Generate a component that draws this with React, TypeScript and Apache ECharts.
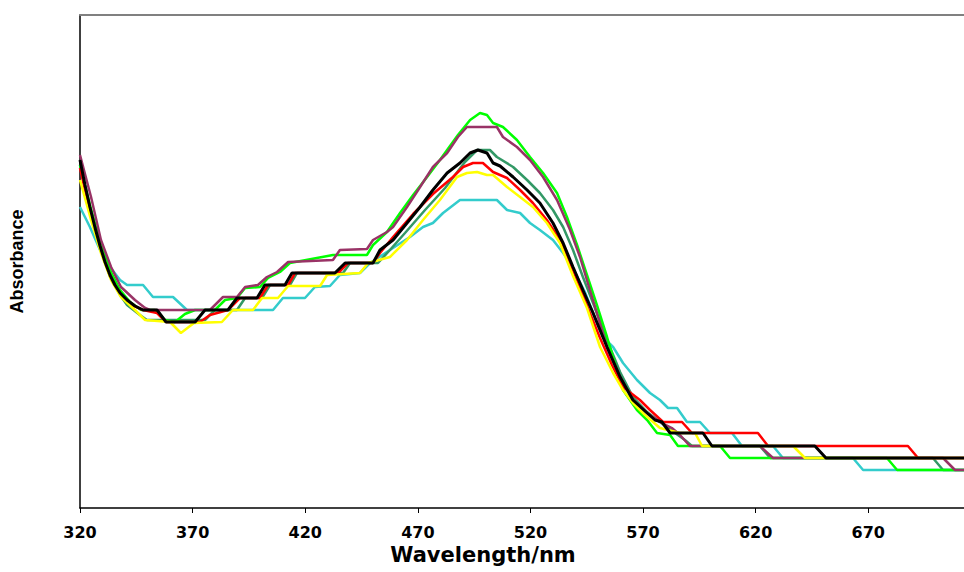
import React, { useEffect, useRef } from "react";
import * as echarts from "echarts";

// Wavelength (nm) / absorbance pairs
const seriesNames = ["S7", "S6", "S5", "S4", "S3", "S2", "S1"];
const seriesColors = ["#33CCCC", "#339966", "#00FF00", "#993366", "#FF0000", "#FFFF00", "#000000"];

const cyanData = [[320.0,.602],[324.4,.562],[328.9,.516],[333.3,.482],[337.8,.456],[340.9,.446],[348.0,.446],[352.4,.422],[361.3,.422],[367.5,.396],[405.7,.396],[410.1,.420],[419.9,.420],[424.3,.442],[431.0,.444],[435.4,.466],[444.3,.470],[448.8,.490],[457.6,.516],[466.5,.542],[472.3,.562],[476.7,.570],[481.2,.590],[488.7,.616],[505.1,.616],[509.6,.596],[515.4,.590],[519.8,.570],[524.2,.556],[530.0,.536],[534.5,.510],[537.6,.490],[544.2,.432],[548.7,.380],[552.2,.342],[556.7,.322],[561.1,.290],[567.3,.256],[573.1,.230],[577.5,.216],[581.1,.200],[585.1,.200],[589.5,.172],[595.3,.172],[599.7,.150],[609.5,.150],[613.9,.124],[627.7,.124],[632.1,.100],[663.2,.100],[667.7,.076],[712.5,.076]];

const tealData = [[320.0,.686],[324.4,.600],[328.9,.524],[333.3,.464],[337.8,.426],[340.9,.406],[346.6,.386],[349.7,.376],[375.5,.376],[379.9,.396],[389.7,.396],[393.3,.420],[400.8,.420],[404.4,.446],[413.2,.446],[416.3,.470],[436.8,.470],[439.9,.490],[452.3,.490],[457.6,.516],[464.3,.550],[473.2,.596],[482.1,.640],[490.9,.692],[496.3,.716],[502.0,.716],[505.1,.702],[512.3,.682],[518.5,.656],[524.2,.630],[530.0,.596],[534.5,.562],[538.9,.516],[543.3,.462],[547.8,.410],[554.0,.336],[559.8,.272],[565.5,.222],[571.8,.192],[577.5,.172],[584.2,.150],[588.6,.136],[591.7,.124],[621.9,.124],[626.4,.100],[698.7,.100],[703.2,.076],[712.5,.076]];

const greenData = [[320.0,.686],[324.4,.606],[328.9,.532],[333.3,.476],[337.8,.436],[342.2,.412],[347.1,.396],[353.3,.396],[357.7,.376],[362.2,.372],[366.6,.388],[371.1,.396],[379.9,.396],[384.4,.416],[389.7,.420],[393.3,.440],[399.9,.442],[403.5,.460],[408.8,.472],[413.2,.490],[432.3,.506],[447.4,.506],[450.1,.526],[456.3,.552],[462.1,.590],[467.9,.626],[474.1,.662],[479.8,.696],[483.0,.716],[487.8,.746],[493.2,.776],[497.6,.790],[500.7,.786],[503.4,.770],[507.8,.762],[514.0,.736],[519.8,.702],[525.6,.670],[531.8,.630],[536.2,.582],[540.7,.526],[545.1,.466],[549.5,.406],[554.0,.342],[558.4,.276],[561.1,.236],[567.3,.196],[571.8,.176],[576.2,.150],[582.0,.146],[585.5,.124],[604.2,.124],[608.6,.100],[678.3,.100],[682.8,.076],[712.5,.076]];

const purpleData = [[320.0,.706],[324.9,.622],[329.3,.536],[333.8,.482],[338.2,.442],[344.4,.416],[348.9,.400],[351.1,.396],[377.7,.396],[383.5,.422],[389.7,.422],[393.3,.442],[399.0,.446],[403.0,.462],[407.5,.472],[412.4,.492],[432.3,.496],[435.4,.516],[447.4,.518],[450.1,.536],[456.3,.552],[459.0,.562],[465.2,.602],[471.0,.642],[476.7,.682],[483.0,.710],[487.8,.742],[491.8,.762],[505.1,.762],[507.8,.742],[514.0,.722],[519.8,.696],[525.6,.662],[531.8,.616],[537.6,.556],[542.0,.502],[546.4,.436],[549.5,.390],[554.0,.322],[559.8,.262],[565.5,.216],[571.8,.190],[577.5,.172],[582.8,.160],[586.4,.146],[590.8,.124],[621.9,.124],[627.7,.100],[703.2,.100],[708.5,.076],[712.5,.076]];

const redData = [[320.0,.680],[324.4,.592],[328.9,.520],[333.3,.464],[337.8,.428],[342.2,.408],[348.0,.396],[354.2,.390],[358.2,.372],[373.3,.372],[377.7,.386],[385.7,.396],[391.0,.420],[399.9,.420],[403.5,.446],[412.4,.446],[415.5,.470],[434.6,.470],[439.0,.490],[450.1,.490],[453.2,.510],[459.0,.542],[467.9,.588],[476.7,.628],[485.6,.662],[490.1,.682],[494.5,.690],[498.9,.690],[503.4,.672],[509.6,.660],[515.4,.636],[521.1,.610],[527.3,.576],[533.1,.536],[537.6,.490],[542.0,.442],[546.4,.390],[550.9,.340],[556.2,.286],[561.1,.242],[568.6,.216],[573.1,.196],[578.9,.172],[587.3,.172],[591.7,.150],[621.0,.150],[625.5,.124],[687.6,.124],[692.1,.100],[712.5,.100]];

const yellowData = [[320.0,.656],[324.9,.576],[329.3,.510],[333.8,.456],[338.2,.422],[344.4,.396],[348.9,.376],[360.0,.372],[364.8,.350],[370.6,.370],[383.0,.372],[387.9,.396],[396.8,.396],[400.8,.420],[407.9,.420],[412.4,.444],[426.6,.444],[429.7,.466],[444.3,.470],[447.9,.490],[457.6,.502],[465.2,.536],[472.3,.576],[479.8,.616],[487.4,.662],[491.8,.670],[496.3,.672],[500.7,.666],[503.4,.666],[509.6,.642],[515.4,.622],[521.1,.602],[527.3,.570],[533.1,.530],[538.9,.464],[545.1,.400],[550.9,.322],[556.7,.270],[561.1,.236],[565.5,.210],[570.9,.186],[577.5,.160],[586.4,.150],[593.1,.150],[596.2,.124],[636.6,.124],[641.9,.100],[712.5,.100]];

const blackData = [[320.0,.696],[322.2,.646],[324.4,.602],[326.7,.560],[328.9,.524],[331.1,.492],[333.3,.466],[335.5,.446],[337.8,.430],[340.9,.416],[344.4,.404],[348.0,.396],[354.2,.396],[358.2,.372],[371.1,.372],[375.5,.396],[385.7,.396],[389.7,.420],[398.6,.420],[402.1,.446],[411.0,.446],[414.1,.470],[433.2,.470],[437.7,.490],[450.1,.490],[453.2,.516],[459.0,.536],[465.2,.570],[471.0,.602],[476.7,.636],[483.0,.670],[488.7,.690],[493.2,.710],[496.7,.716],[500.7,.710],[503.4,.690],[506.5,.684],[512.3,.662],[518.5,.636],[524.2,.610],[530.0,.570],[534.5,.530],[538.9,.482],[543.3,.436],[547.8,.390],[554.0,.322],[559.8,.262],[565.5,.216],[571.8,.190],[575.3,.176],[578.4,.172],[582.0,.150],[596.6,.150],[600.6,.124],[646.3,.124],[651.2,.100],[712.5,.100]];

const allData = [cyanData, tealData, greenData, purpleData, redData, yellowData, blackData];
const lineWidths = [2.5, 2.5, 2.5, 2.5, 2.5, 2.5, 3];

const xMin = 320;
const xMax = 712.5;
const xInterval = 50;
const yMin = 0;
const yMax = 0.986;

export default function App() {
  const ref = useRef<HTMLDivElement>(null);
  useEffect(() => {
    if (!ref.current) return;
    const chart = echarts.init(ref.current, null, { renderer: "svg" });
    chart.setOption({
      animation: false,
      backgroundColor: "#ffffff",
      grid: { left: 80, right: 0, top: 15, bottom: 64, containLabel: false },
      xAxis: [
        {
          type: "value",
          min: xMin,
          max: xMax,
          interval: xInterval,
          position: "bottom",
          name: "Wavelength/nm",
          nameLocation: "middle",
          nameGap: 35,
          nameTextStyle: {
            fontFamily: "DejaVu Sans",
            fontWeight: "bold",
            fontSize: 21,
            color: "#000",
            padding: [0, 78, 0, 0],
          },
          axisLine: { show: true, onZero: false, lineStyle: { color: "#000", width: 1.5 } },
          axisTick: { show: true, inside: false, length: 5, lineStyle: { color: "#000", width: 1 } },
          axisLabel: {
            show: true,
            margin: 16,
            fontFamily: "DejaVu Sans",
            fontWeight: "bold",
            fontSize: 16,
            color: "#000",
            showMaxLabel: false,
          },
          splitLine: { show: false },
        },
        {
          type: "value",
          min: xMin,
          max: xMax,
          position: "top",
          axisLine: { show: true, onZero: false, lineStyle: { color: "#808080", width: 2 } },
          axisTick: { show: false },
          axisLabel: { show: false },
          splitLine: { show: false },
        },
      ],
      yAxis: {
        type: "value",
        min: yMin,
        max: yMax,
        name: "Absorbance",
        nameLocation: "middle",
        nameRotate: 90,
        nameGap: 54,
        nameTextStyle: {
          fontFamily: "Liberation Sans",
          fontWeight: "bold",
          fontSize: 18,
          color: "#000",
        },
        axisLine: { show: true, onZero: false, lineStyle: { color: "#000", width: 1.5 } },
        axisTick: { show: false },
        axisLabel: { show: false },
        splitLine: { show: false },
      },
      series: allData.map((d, i) => ({
        name: seriesNames[i],
        type: "line",
        xAxisIndex: 0,
        data: d,
        showSymbol: false,
        symbol: "none",
        smooth: false,
        lineStyle: { color: seriesColors[i], width: lineWidths[i] },
        itemStyle: { color: seriesColors[i] },
        z: 2 + i,
      })),
    });
    return () => chart.dispose();
  }, []);
  return (
    <div
      ref={ref}
      style={{ position: "absolute", left: 0, top: 0, width: 964, height: 572 }}
    />
  );
}
